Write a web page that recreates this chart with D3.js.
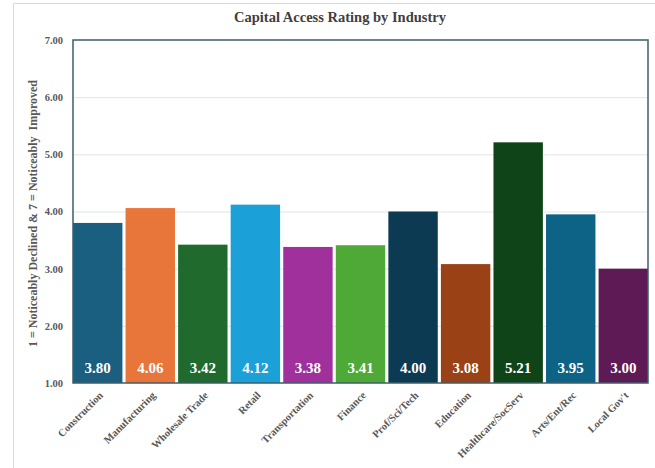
<!DOCTYPE html>
<html>
<head>
<meta charset="utf-8">
<script src="https://cdn.jsdelivr.net/npm/d3@7"></script>
<style>
  html, body { margin: 0; padding: 0; background: #fff; }
  svg { display: block; }
</style>
</head>
<body>
<svg id="chart" width="655" height="468"></svg>
<script>
// Average capital access rating per industry (1–7 scale)
const industries = ["Construction", "Manufacturing", "Wholesale Trade", "Retail", "Transportation",
  "Finance", "Prof/Sci/Tech", "Education", "Healthcare/SocServ", "Arts/Ent/Rec", "Local Gov't"];
const ratings = [3.80, 4.06, 3.42, 4.12, 3.38, 3.41, 4.00, 3.08, 5.21, 3.95, 3.00];
const barColors = ["#1a5f80", "#e8763a", "#1f6a2c", "#1ba0d7", "#a0309b", "#4ea937",
  "#0c3a52", "#9a4215", "#0f4418", "#0d6386", "#5e1a55"];
const yTicks = [1, 2, 3, 4, 5, 6, 7];

const data = industries.map((name, i) => ({ name, value: ratings[i], color: barColors[i] }));

const svg = d3.select("#chart");
const serif = "'Liberation Serif', 'Times New Roman', serif";
const plot = { left: 73, right: 648, top: 40, bottom: 383 };

// Outer chart frame
svg.append("path")
  .attr("d", "M13.5,470 L13.5,3.5 L660,3.5")
  .attr("fill", "none").attr("stroke", "#d9d9d9").attr("stroke-width", 1);

const x = d3.scaleBand()
  .domain(industries)
  .range([plot.left, plot.right])
  .paddingInner(0.06)
  .paddingOuter(0);

const y = d3.scaleLinear().domain([1, 7]).range([plot.bottom, plot.top]);

// Gridlines
svg.append("g")
  .selectAll("line")
  .data(yTicks.slice(1, -1))
  .join("line")
  .attr("x1", plot.left).attr("x2", plot.right)
  .attr("y1", d => y(d) + 0.5).attr("y2", d => y(d) + 0.5)
  .attr("stroke", "#e3e3e3").attr("stroke-width", 1);

// Bars
svg.append("g")
  .selectAll("rect")
  .data(data)
  .join("rect")
  .attr("x", d => x(d.name))
  .attr("y", d => y(d.value))
  .attr("width", x.bandwidth())
  .attr("height", d => y(1) - y(d.value))
  .attr("fill", d => d.color);

// Value labels inside bars
svg.append("g")
  .selectAll("text")
  .data(data)
  .join("text")
  .attr("x", d => x(d.name) + x.bandwidth() / 2)
  .attr("y", plot.bottom - 10)
  .attr("text-anchor", "middle")
  .attr("fill", "#ffffff")
  .attr("font-family", serif)
  .attr("font-weight", "bold")
  .attr("font-size", 15)
  .text(d => d.value.toFixed(2));

// Plot frame
svg.append("rect")
  .attr("x", plot.left).attr("y", plot.top)
  .attr("width", plot.right - plot.left).attr("height", plot.bottom - plot.top)
  .attr("fill", "none").attr("stroke", "#3d5f6b").attr("stroke-width", 1.5);

// Y axis
const yAxis = svg.append("g")
  .attr("transform", `translate(${plot.left},0)`)
  .call(d3.axisLeft(y).tickValues(yTicks).tickSize(0).tickPadding(10).tickFormat(d3.format(".2f")));
yAxis.select(".domain").remove();
yAxis.selectAll("text")
  .attr("font-family", serif).attr("font-weight", "bold")
  .attr("font-size", 10.5).attr("fill", "#595959");

// X axis
const xAxis = svg.append("g")
  .attr("transform", `translate(0,${plot.bottom})`)
  .call(d3.axisBottom(x).tickSize(0).tickPadding(0));
xAxis.select(".domain").remove();
xAxis.selectAll("text")
  .attr("font-family", serif).attr("font-weight", "bold")
  .attr("font-size", 10.5).attr("fill", "#595959")
  .attr("text-anchor", "end")
  .attr("dy", 0)
  .attr("transform", "translate(6,13) rotate(-45)");

// Title
svg.append("text")
  .attr("x", 340).attr("y", 22)
  .attr("text-anchor", "middle")
  .attr("font-family", serif).attr("font-weight", "bold")
  .attr("font-size", 14.5).attr("fill", "#404040")
  .text("Capital Access Rating by Industry");

// Y axis title
svg.append("text")
  .attr("transform", `translate(37,${(plot.top + plot.bottom) / 2 + 2}) rotate(-90)`)
  .attr("text-anchor", "middle")
  .attr("font-family", serif).attr("font-weight", "bold")
  .attr("font-size", 12).attr("fill", "#595959")
  .attr("xml:space", "preserve")
  .text("1 = Noticeably Declined & 7 = Noticeably  Improved");
</script>
</body>
</html>
